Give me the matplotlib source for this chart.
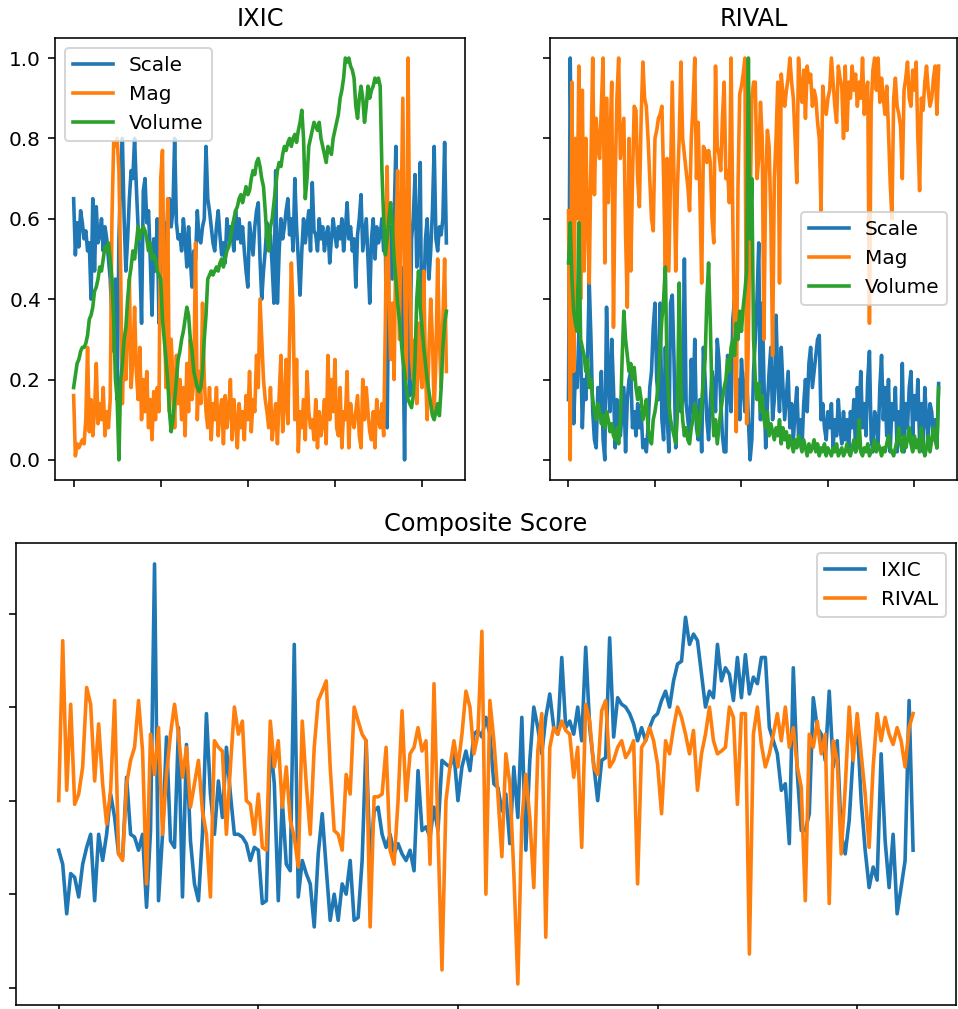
import numpy as np
import matplotlib
matplotlib.use("Agg")
import matplotlib.pyplot as plt

# normalised factor series, in percent (0-100)
ixic_scale = [
    65, 51, 59, 53, 62, 59, 55, 57, 52, 54, 40,
    65, 47, 63, 54, 56, 60, 52, 58, 55, 50,
    45, 35, 27, 45, 15, 55, 70, 80, 60, 47,
    55, 65, 72, 70, 80, 68, 58, 50, 34, 67,
    70, 59, 62, 50, 36, 55, 47, 60, 34, 51,
    55, 59, 50, 62, 65, 58, 62, 80, 59, 55,
    56, 52, 60, 55, 48, 58, 50, 43, 52, 50,
    62, 55, 54, 58, 60, 78, 65, 62, 58, 54,
    52, 58, 62, 56, 51, 54, 49, 60, 55, 58,
    56, 52, 62, 55, 60, 54, 58, 52, 47, 43,
    59, 55, 51, 58, 62, 64, 50, 40, 47, 52,
    59, 55, 56, 48, 39, 72, 39, 52, 60, 55,
    58, 62, 65, 56, 60, 52, 70, 58, 50, 41,
    52, 60, 54, 58, 62, 52, 69, 57, 56, 52,
    60, 55, 58, 52, 56, 58, 49, 55, 60, 56,
    53, 58, 55, 60, 52, 57, 64, 55, 58, 52,
    55, 43, 56, 60, 66, 52, 56, 60, 50, 39,
    55, 60, 50, 58, 54, 56, 60, 52, 55, 8,
    50, 58, 45, 60, 78, 52, 42, 48, 35, 0,
    45, 52, 16, 55, 60, 71, 48, 55, 74, 22,
    40, 55, 60, 45, 52, 62, 78, 55, 52, 58,
    56, 60, 79, 54,
]
ixic_mag = [
    16, 1, 4, 3, 4, 5, 4, 10, 28, 7, 15,
    6, 12, 24, 9, 14, 10, 18, 6, 12, 8,
    15, 60, 79, 78, 80, 72, 47, 14, 30, 20,
    33, 45, 18, 25, 38, 22, 15, 28, 10, 20,
    12, 22, 8, 15, 5, 17, 10, 18, 12, 70,
    77, 40, 18, 65, 12, 30, 20, 8, 26, 14,
    20, 10, 18, 6, 24, 12, 30, 15, 20, 54,
    10, 22, 14, 39, 20, 12, 8, 18, 5, 14,
    10, 18, 6, 12, 15, 4, 16, 8, 12, 20,
    5, 15, 10, 3, 14, 8, 12, 5, 16, 10,
    22, 7, 15, 12, 26, 18, 40, 30, 20, 15,
    12, 8, 18, 5, 10, 14, 4, 16, 26, 7,
    14, 25, 9, 30, 49, 37, 10, 25, 2, 12,
    8, 15, 5, 22, 12, 8, 10, 5, 15, 3,
    12, 6, 9, 15, 4, 26, 10, 20, 12, 25,
    8, 6, 18, 3, 12, 10, 22, 3, 14, 10,
    8, 12, 16, 6, 3, 20, 10, 18, 12, 7,
    5, 12, 3, 15, 10, 8, 14, 6, 35, 73,
    42, 25, 39, 20, 55, 72, 30, 60, 90, 45,
    20, 100, 50, 25, 20, 30, 14, 34, 22, 18,
    47, 22, 10, 28, 40, 30, 12, 25, 50, 30,
    18, 35, 50, 22,
]
ixic_volume = [
    18, 21, 24, 25, 27, 28, 28, 29, 31, 35, 36,
    38, 42, 43, 45, 48, 47, 50, 53, 52, 54,
    50, 45, 35, 20, 15, 0,
    20, 24, 30, 33, 40, 45, 48, 52, 50, 54, 58, 55, 57, 58,
    57, 55, 52, 54, 50, 51, 50, 47, 46, 45,
    35, 30, 25, 20, 12, 7, 10,
    15, 20, 25, 27, 30, 32, 35, 38, 36, 30, 27, 22, 20, 18, 17,
    18, 22, 30, 36, 45, 46, 47, 46, 47, 48,
    47, 49, 50, 48, 50, 52, 53, 55, 58, 60,
    62, 63, 65, 66, 64, 66, 68, 66,
    67, 70, 72, 71, 74, 75, 73, 70, 68, 62,
    55, 52, 58, 60, 64, 68, 72, 74, 73, 76,
    78, 77, 79, 80, 78, 80, 81, 79, 82, 84,
    87, 80, 65, 70, 78, 80, 82, 84, 83, 82,
    84, 80, 78, 76, 74, 78, 77, 76, 80, 82,
    84, 86, 90, 92, 95, 100, 99, 100, 98, 97,
    95, 88, 85, 90, 93, 90, 84, 88, 93, 90,
    92, 93, 95, 94, 95, 93, 72, 60, 51, 55,
    60, 64, 58, 50, 45, 39, 35, 30, 25, 22,
    18, 15, 14, 13, 16, 25, 40, 47, 38, 33,
    28, 24, 20, 17, 14, 11, 10, 12, 14, 11,
    18, 28, 34, 37,
]

rival_scale = [
    15, 100, 60, 9, 22, 18, 32, 28, 8, 20, 15,
    25, 44, 30, 12, 5, 3, 18, 12, 22, 5,
    0, 38, 20, 12, 30, 18, 3, 15, 10, 6,
    12, 18, 2, 15, 20, 22, 8, 12, 6, 14,
    8, 12, 3, 5, 2, 8, 18, 22, 33, 39,
    20, 15, 39, 10, 5, 28, 12, 2, 39, 41,
    25, 3, 18, 22, 12, 15, 50, 14, 10, 6,
    25, 12, 30, 8, 5, 15, 2, 28, 20, 10,
    5, 14, 22, 18, 12, 30, 25, 15, 6, 2,
    2, 26, 18, 12, 35, 40, 15, 20, 10, 25,
    18, 12, 22, 10, 0, 5, 22, 30, 40, 54,
    10, 39, 20, 3, 14, 22, 28, 10, 15, 36,
    20, 12, 28, 18, 10, 16, 22, 8, 14, 5,
    12, 18, 6, 10, 3, 14, 20, 12, 24, 28,
    18, 22, 26, 30, 31, 10, 14, 8, 5, 12,
    8, 14, 3, 10, 6, 15, 8, 4, 12, 5,
    10, 3, 12, 8, 15, 2, 18, 10, 22, 8,
    14, 6, 20, 27, 5, 2, 12, 10, 4, 18,
    26, 10, 18, 6, 20, 2, 14, 10, 18, 2,
    12, 6, 24, 2, 14, 8, 18, 22, 6, 16,
    10, 20, 4, 14, 2, 18, 10, 6, 14, 12,
    5, 10, 3, 19,
]
rival_mag = [
    62, 0, 94, 22, 80, 60, 98, 40, 92, 47, 80,
    60, 44, 75, 100, 66, 85, 78, 75, 88, 100,
    49, 90, 64, 80, 94, 33, 70, 90, 100, 75,
    80, 85, 56, 38, 80, 47, 70, 88, 87, 70,
    63, 85, 99, 90, 88, 80, 70, 60, 57, 80,
    82, 85, 86, 88, 70, 48, 75, 47, 70, 94,
    70, 47, 68, 80, 99, 80, 76, 72, 68, 62,
    80, 88, 100, 70, 84, 65, 44, 78, 77, 74,
    77, 74, 60, 54, 98, 78, 76, 72, 85, 94,
    70, 72, 64, 100, 60, 30, 7, 68, 91, 93,
    96, 100, 9, 30, 60, 90, 94, 94, 70, 75,
    89, 80, 30, 70, 82, 78, 60, 26, 70, 80,
    94, 44, 96, 91, 88, 92, 95, 100, 94, 90,
    80, 69, 100, 92, 89, 97, 85, 98, 94, 96,
    88, 92, 90, 84, 80, 62, 93, 88, 86, 90,
    92, 100, 94, 88, 84, 98, 95, 93, 80, 98,
    82, 94, 90, 98, 92, 96, 88, 94, 90, 100,
    86, 92, 94, 34, 88, 97, 100, 92, 100, 89,
    95, 90, 86, 93, 82, 69, 60, 90, 95, 88,
    86, 83, 70, 92, 95, 99, 90, 88, 97, 92,
    99, 80, 67, 90, 87, 94, 98, 92, 88, 90,
    95, 98, 86, 98,
]
rival_volume = [
    49, 59, 45, 37, 34, 32, 59, 30, 28, 26, 22,
    25, 18, 20, 15, 12, 10, 14, 12, 9, 11,
    8, 12, 10, 7, 9, 6, 5, 8, 4, 10,
    25, 37, 30, 26, 22, 24, 20, 23, 18, 15,
    18, 15, 10, 12, 15, 8, 5, 4, 10, 12,
    15, 20, 28, 35, 40, 48, 22, 14, 10, 8,
    6, 4, 12, 44, 18, 10, 6, 8, 5, 4,
    8, 10, 14, 12, 6, 9, 14, 20, 25, 40,
    49, 34, 15, 6, 10, 4, 8, 12, 15, 18,
    20, 25, 22, 28, 30, 26, 34, 30, 37, 32,
    38, 42, 47, 100, 55, 70, 30, 20, 15, 19,
    12, 16, 10, 8, 12, 6, 9, 7, 5, 8,
    6, 10, 4, 8, 5, 7, 3, 6, 4, 2,
    5, 3, 6, 4, 2, 5, 3, 1, 4, 2,
    3, 5, 2, 4, 1, 3, 2, 4, 1, 3,
    2, 1, 3, 2, 4, 1, 2, 3, 1, 2,
    4, 2, 1, 3, 5, 2, 3, 10, 2, 1,
    3, 2, 4, 1, 2, 3, 5, 2, 4, 3,
    1, 3, 2, 4, 6, 3, 2, 1, 3, 5,
    8, 4, 2, 6, 3, 5, 8, 4, 2, 6,
    3, 5, 2, 8, 4, 1, 3, 6, 2, 5,
    8, 5, 3, 18,
]

# composite score, in thousandths
composite_ixic = [
    147, 132, 79, 122, 118, 97, 132, 150, 164, 93, 164,
    136, 164, 207, 182, 143, 140, 225, 164, 161, 147,
    164, 86, 168, 453, 93, 164, 268, 157, 150, 278,
    97, 260, 157, 111, 93, 164, 293, 207, 164, 221,
    182, 257, 207, 164, 164, 161, 154, 136, 150, 147,
    90, 93, 264, 218, 93, 200, 132, 125, 367, 97,
    136, 122, 111, 65, 143, 186, 128, 72, 100, 72,
    111, 100, 136, 72, 75, 136, 264, 132, 189, 193,
    164, 150, 164, 143, 154, 143, 136, 147, 125, 232,
    168, 172, 161, 193, 168, 243, 239, 236, 250, 200,
    236, 253, 232, 271, 275,
    268, 289, 271, 218, 214, 189, 207, 154, 236, 182, 289, 147, 243, 300, 278,
    250, 289, 314, 278, 271, 353, 278, 285, 271, 300,
    264, 364, 278, 239, 200, 243, 246, 374, 268, 310,
    303, 300, 293, 282, 264, 278, 264, 278, 289, 293,
    307, 317, 300, 328, 346, 349, 396, 367, 378, 371,
    335, 300, 317, 310, 367, 328, 342, 335, 307, 353,
    310, 356, 314, 332, 325, 353, 353, 278, 264, 250,
    211, 218, 154, 342, 229, 168, 168, 186, 310, 278,
    271, 243, 317, 236, 264, 164, 143, 179, 250, 282,
    200, 147, 107, 129, 115, 250, 157, 107, 164, 79,
    107, 136, 307, 147,
]
composite_rival = [
    200, 371, 211, 303, 196, 207, 236, 321, 303, 221, 282,
    218, 175, 211, 307, 143, 136, 218, 243, 257, 307,
    253, 111, 271, 228, 278, 164, 228, 271, 303, 271,
    225, 257, 193, 218, 243, 189, 164, 97, 264, 257,
    253, 164, 236, 300, 271, 285, 200, 196, 164, 207,
    150, 147, 285, 236, 264, 193, 236, 179, 161, 129,
    285, 218, 164, 257, 307, 317, 328, 236, 168, 164,
    147, 228, 207, 300, 285, 271, 264, 65, 204, 204,
    207, 257, 147, 132, 200, 296, 200, 250, 257, 278,
    253, 264, 132, 325, 164, 19, 200, 236, 264, 236,
    271, 317, 300, 250, 271,
    381, 100, 307, 264, 207, 140, 250, 218, 122, 4, 179, 228, 182, 107, 253,
    293, 54, 257, 278, 271, 285, 275, 271, 225, 257,
    150, 303, 285, 236, 228, 296, 307, 236, 243, 257,
    264, 246, 253, 264, 111, 257, 264, 278, 264, 239,
    186, 264, 250, 278, 300, 289, 271, 250, 275, 211,
    250, 271, 300, 264, 250, 253, 257, 300, 289, 196,
    293, 293, 36, 271, 300, 260, 236, 250, 271, 293,
    264, 300, 257, 278, 236, 214, 93, 271, 257, 285,
    250, 271, 90, 264, 243, 143, 214, 300, 243, 293,
    250, 207, 150, 236, 293, 264, 289, 271, 260, 278,
    264, 236, 278, 293,
]

plt.rcParams["lines.linewidth"] = 1.8

fig = plt.figure(figsize=(958 / 144, 1009 / 144), dpi=144)
ax_ixic = fig.add_axes([0.0574, 0.5243, 0.428, 0.4381])
ax_rival = fig.add_axes([0.5741, 0.5243, 0.425, 0.4381], sharey=ax_ixic)
ax_comp = fig.add_axes([0.0167, 0.004, 0.981, 0.4579])

labels = ["Scale", "Mag", "Volume"]
panels = [
    (ax_ixic, "IXIC", [ixic_scale, ixic_mag, ixic_volume], "upper left"),
    (ax_rival, "RIVAL", [rival_scale, rival_mag, rival_volume], "center right"),
]
for ax, name, series, loc in panels:
    for values, label in zip(series, labels):
        ax.plot(np.arange(len(values)), np.array(values) / 100, label=label)
    ax.set_title(name)
    ax.legend(loc=loc)
    ax.set_xticks([0, 50, 100, 150, 200])
    ax.tick_params(labelbottom=False)
ax_ixic.set_yticks([0.0, 0.2, 0.4, 0.6, 0.8, 1.0])
ax_rival.tick_params(labelleft=False)

ax_comp.plot(np.arange(len(composite_ixic)), np.array(composite_ixic) / 1000, label="IXIC")
ax_comp.plot(np.arange(len(composite_rival)), np.array(composite_rival) / 1000, label="RIVAL")
ax_comp.set_title("Composite Score")
ax_comp.legend(loc="upper right")
ax_comp.set_xticks([0, 50, 100, 150, 200])
ax_comp.set_yticks([0.0, 0.1, 0.2, 0.3, 0.4])
ax_comp.tick_params(labelbottom=False, labelleft=False)

fig.savefig("out.png", dpi=144)
